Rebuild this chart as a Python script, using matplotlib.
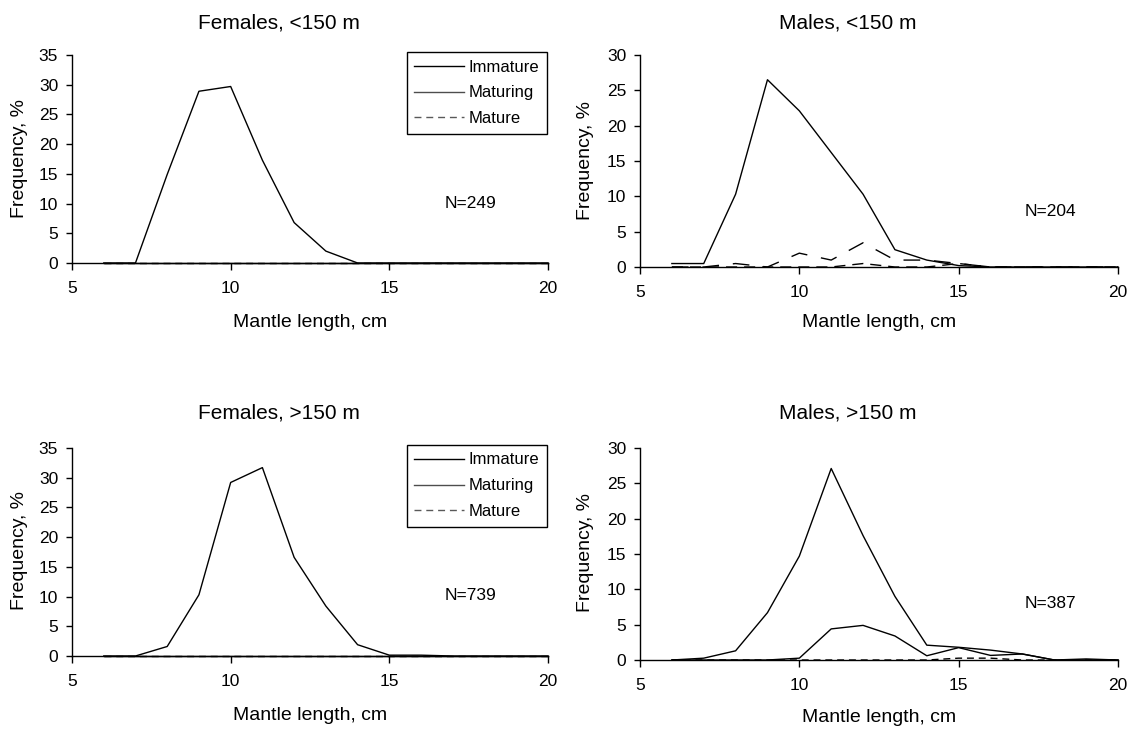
import matplotlib
matplotlib.use("Agg")
import matplotlib.pyplot as plt
from matplotlib.lines import Line2D

plt.rcParams["font.family"] = ["Liberation Sans", "DejaVu Sans"]

# mantle length classes, cm
length = [6, 7, 8, 9, 10, 11, 12, 13, 14, 15, 16, 17, 18, 19, 20]

# frequency, %
fem_shallow_imm = [0, 0, 14.9, 28.9, 29.7, 17.3, 6.8, 2.0, 0, 0, 0, 0, 0, 0, 0]
fem_shallow_mat = [0] * 15
fem_shallow_mature = [0] * 15

male_shallow_imm = [0.49, 0.49, 10.3, 26.5, 22.1, 16.2, 10.3, 2.45, 0.98, 0.2, 0, 0, 0, 0, 0]
male_shallow_mat = [0, 0, 0.49, 0, 1.96, 0.98, 3.43, 0.98, 0.98, 0.49, 0, 0, 0, 0, 0]
male_shallow_mature = [0, 0, 0, 0, 0, 0, 0.49, 0, 0, 0.49, 0, 0, 0, 0, 0]

fem_deep_imm = [0, 0, 1.6, 10.3, 29.2, 31.7, 16.6, 8.4, 1.9, 0.14, 0.14, 0, 0, 0, 0]
fem_deep_mat = [0] * 15
fem_deep_mature = [0] * 15

male_deep_imm = [0, 0.26, 1.3, 6.7, 14.7, 27.1, 17.6, 9.0, 2.1, 1.8, 1.4, 0.85, 0, 0.15, 0]
male_deep_mat = [0, 0, 0, 0, 0.26, 4.4, 4.9, 3.4, 0.6, 1.75, 0.65, 0.85, 0, 0, 0]
male_deep_mature = [0, 0, 0, 0, 0, 0, 0, 0, 0, 0.26, 0.26, 0, 0, 0, 0]

W, H = 1138, 731
fig = plt.figure(figsize=(W / 100, H / 100), dpi=100)


def fx(px):
    return px / W


def fy(py):
    return 1 - py / H


def make_axes(left, right, top, bottom, ymax):
    ax = fig.add_axes([fx(left), fy(bottom), fx(right - left), (bottom - top) / H])
    ax.set_xlim(5, 20)
    ax.set_ylim(0, ymax)
    ax.set_xticks([5, 10, 15, 20])
    ax.set_yticks(range(0, ymax + 1, 5))
    for s in ["top", "right"]:
        ax.spines[s].set_visible(False)
    for s in ["left", "bottom"]:
        ax.spines[s].set_linewidth(1.0)
    ax.tick_params(axis="y", direction="out", length=4, width=1, pad=6, labelsize=12.5)
    ax.tick_params(axis="x", direction="out", length=5, width=1, pad=8, labelsize=12.5)
    return ax


def draw(ax, imm, mat, mature, mat_style, mature_style):
    ax.plot(length, imm, color="black", lw=1.0, clip_on=False)
    ax.plot(length, mat, color="black", lw=1.0, linestyle=mat_style, clip_on=False)
    ax.plot(length, mature, color="black", lw=1.0, linestyle=mature_style, clip_on=False)


def add_legend(ax, top):
    handles = [
        Line2D([], [], color="black", lw=1.0),
        Line2D([], [], color="0.3", lw=1.0),
        Line2D([], [], color="0.35", lw=1.0, linestyle=(0, (5, 3.5))),
    ]
    leg = ax.legend(handles, ["Immature", "Maturing", "Mature"],
                    loc="upper left", bbox_to_anchor=(fx(407), fy(top)),
                    bbox_transform=fig.transFigure, borderaxespad=0,
                    fontsize=12, handlelength=3.0, handletextpad=0.25,
                    labelspacing=0.65, borderpad=0.45, fancybox=False,
                    edgecolor="black", framealpha=1)
    leg.get_frame().set_linewidth(1.0)


def texts(title, tx, ty, xl, xly, yl_x, yl_y, nlab, nx, ny, xcenter):
    fig.text(fx(tx), fy(ty), title, ha="center", va="center", fontsize=15)
    fig.text(fx(xcenter), fy(xly), xl, ha="center", va="center", fontsize=14)
    fig.text(fx(yl_x), fy(yl_y), "Frequency, %", ha="center", va="center",
             rotation=90, fontsize=14)
    fig.text(fx(nx), fy(ny), nlab, ha="center", va="center", fontsize=12.5)


ax1 = make_axes(72, 548, 55, 263, 35)
draw(ax1, fem_shallow_imm, fem_shallow_mat, fem_shallow_mature, "-", (0, (5, 3.5)))
add_legend(ax1, 52)
texts("Females, <150 m", 279, 22.7, "Mantle length, cm", 322, 20, 158, "N=249", 470, 204, 310)

ax2 = make_axes(640, 1118, 55, 267, 30)
draw(ax2, male_shallow_imm, male_shallow_mat, male_shallow_mature, (0, (12, 10)), (0, (8, 5)))
texts("Males, <150 m", 848, 22.7, "Mantle length, cm", 322, 586, 161, "N=204", 1050, 212, 879)

ax3 = make_axes(72, 548, 448, 656, 35)
draw(ax3, fem_deep_imm, fem_deep_mat, fem_deep_mature, "-", (0, (5, 3.5)))
add_legend(ax3, 445)
texts("Females, >150 m", 279, 413, "Mantle length, cm", 715, 20, 550, "N=739", 470, 596, 310)

ax4 = make_axes(640, 1118, 448, 660, 30)
draw(ax4, male_deep_imm, male_deep_mat, male_deep_mature, "-", (0, (5, 3.5)))
texts("Males, >150 m", 848, 413, "Mantle length, cm", 718, 586, 552, "N=387", 1050, 603, 879)

fig.savefig("out.png", dpi=100)
